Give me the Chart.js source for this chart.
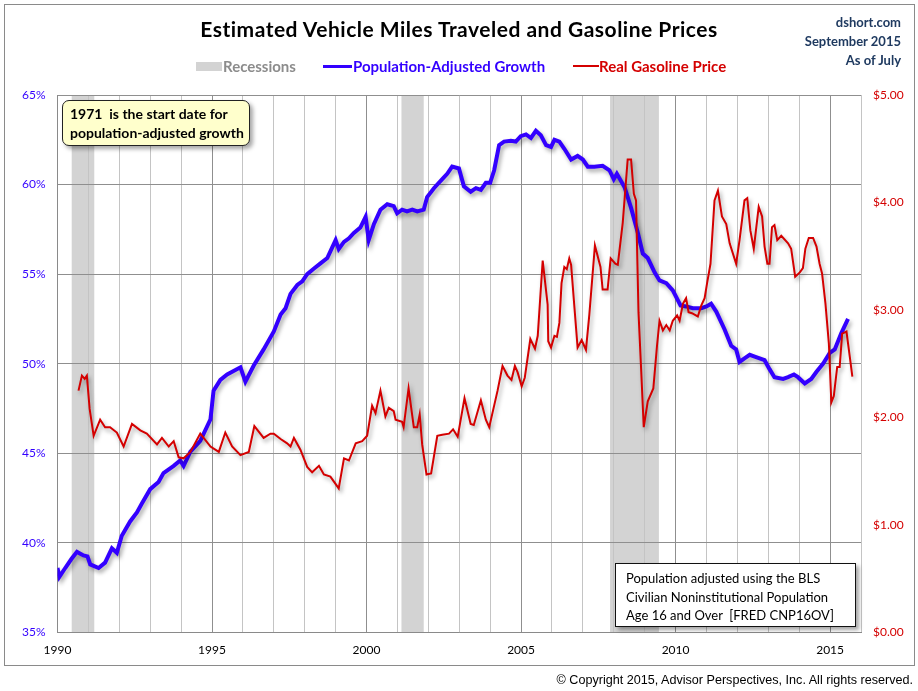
<!DOCTYPE html>
<html>
<head>
<meta charset="utf-8">
<script src="https://cdn.jsdelivr.net/npm/chart.js@4.4.1/dist/chart.umd.min.js"></script>
<style>
  body { margin: 0; background: #fff; }
  #wrap { position: relative; width: 918px; height: 691px; font-family: Lato, "Open Sans", sans-serif; }
  #frame { position: absolute; left: 4px; top: 4px; width: 909px; height: 660px; border: 1px solid #8a8a8a; }
  canvas { position: absolute; left: 0; top: 0; }
  .abs { position: absolute; white-space: nowrap; }
  #title { left: 0; width: 918px; top: 16px; text-align: center; font-weight: bold; font-size: 21px; letter-spacing: 0.5px; color: #000; }
  #source { right: 17px; top: 13px; text-align: right; font-weight: bold; font-size: 13px; line-height: 19px; color: #1f3a60; }
  .leg { top: 57px; font-weight: bold; font-size: 15px; }
  .swatch { position: absolute; }
  #note1 { left: 62px; top: 100px; background: #ffffcc; border: 1px solid #222; border-radius: 7px;
           box-shadow: 3px 3px 4px rgba(0,0,0,0.35); font-weight: bold; font-size: 14px; line-height: 19px; padding: 3px 0 0 7px; box-sizing: border-box; width: 188px; height: 46px; }
  #note2 { left: 615px; top: 563px; width: 241px; height: 64px; background: #fff; border: 1px solid #111;
           box-shadow: 3px 3px 4px rgba(0,0,0,0.35); font-size: 13px; line-height: 18.5px; padding: 5px 0 0 10px; box-sizing: border-box; }
  #copy { right: 5px; top: 673px; font-family: "Liberation Sans", Arial, sans-serif; font-size: 12.6px; color: #000; }
</style>
</head>
<body>
<div id="wrap">
  <canvas id="chart" width="918" height="691"></canvas>
  <div id="frame"></div>
  <div id="title" class="abs">Estimated Vehicle Miles Traveled and Gasoline Prices</div>
  <div id="source" class="abs">dshort.com<br>September 2015<br>As of July</div>

  <div class="swatch" style="left:196px;top:62px;width:26px;height:9px;background:#d3d3d3;"></div>
  <div class="abs leg" style="left:223px;color:#8c8c8c;">Recessions</div>
  <div class="swatch" style="left:323px;top:65px;width:29px;height:3px;background:#3300ff;"></div>
  <div class="abs leg" style="left:353px;color:#3300ff;">Population-Adjusted Growth</div>
  <div class="swatch" style="left:573px;top:65px;width:26px;height:2px;background:#d40000;"></div>
  <div class="abs leg" style="left:599px;color:#d40000;">Real Gasoline Price</div>

  <div id="note1" class="abs">1971&nbsp; is the start date for<br>population-adjusted growth</div>
  <div id="note2" class="abs">Population adjusted using the BLS<br>Civilian Noninstitutional Population<br>Age 16 and Over&nbsp; [FRED CNP16OV]</div>
  <div id="copy" class="abs">© Copyright 2015, Advisor Perspectives, Inc. All rights reserved.</div>
</div>

<script>
// recession periods (decimal years)
const recessionStarts = [1990.46, 2001.13, 2007.88];
const recessionEnds = [1991.19, 2001.85, 2009.46];

// population-adjusted vehicle miles growth since 1971 (%)
const vmtYears = [
  1990.00, 1990.06, 1990.25, 1990.45, 1990.63, 1990.84, 1990.97, 1991.06, 1991.33, 1991.54,
  1991.76, 1991.92, 1992.08, 1992.35, 1992.57, 1992.73, 1993.00, 1993.27, 1993.43, 1993.76,
  1993.97, 1994.08, 1994.30, 1994.62, 1994.95, 1995.05, 1995.27, 1995.49, 1995.92, 1996.08,
  1996.35, 1996.67, 1997.00, 1997.22, 1997.38, 1997.54, 1997.76, 1997.92, 1998.08, 1998.29,
  1998.51, 1998.73, 1998.89, 1999.00, 1999.10, 1999.27, 1999.43, 1999.59, 1999.80, 1999.97,
  2000.07, 2000.24, 2000.45, 2000.67, 2000.88, 2000.99, 2001.15, 2001.31, 2001.48, 2001.64,
  2001.85, 2001.96, 2002.18, 2002.45, 2002.61, 2002.77, 2002.99, 2003.15, 2003.37, 2003.54,
  2003.70, 2003.86, 2004.00, 2004.13, 2004.29, 2004.45, 2004.67, 2004.83, 2004.99, 2005.16,
  2005.32, 2005.48, 2005.64, 2005.81, 2005.97, 2006.08, 2006.24, 2006.40, 2006.62, 2006.83,
  2007.00, 2007.16, 2007.37, 2007.64, 2007.86, 2008.00, 2008.10, 2008.35, 2008.56, 2008.78,
  2008.94, 2009.10, 2009.32, 2009.48, 2009.70, 2009.91, 2010.16, 2010.34, 2010.56, 2010.83,
  2011.00, 2011.15, 2011.32, 2011.59, 2011.80, 2011.96, 2012.07, 2012.23, 2012.40, 2012.56,
  2012.72, 2012.88, 2013.04, 2013.20, 2013.48, 2013.64, 2013.83, 2013.96, 2014.18, 2014.39,
  2014.56, 2014.77, 2014.99, 2015.15, 2015.36, 2015.58
];
const vmtValues = [
  38.6, 38.1, 38.6, 39.1, 39.5, 39.3, 39.25, 38.8, 38.6, 38.9,
  39.7, 39.45, 40.4, 41.2, 41.7, 42.2, 43.0, 43.4, 43.9, 44.3,
  44.6, 44.3, 45.1, 45.7, 46.9, 48.5, 49.1, 49.4, 49.8, 49.0,
  49.9, 50.8, 51.8, 52.75, 53.1, 53.9, 54.4, 54.6, 55.0, 55.3,
  55.6, 55.9, 56.5, 56.9, 56.4, 56.8, 57.0, 57.3, 57.6, 58.2,
  56.9, 57.8, 58.6, 58.9, 58.8, 58.4, 58.6, 58.5, 58.6, 58.5,
  58.6, 59.3, 59.8, 60.3, 60.6, 61.0, 60.9, 59.9, 59.6, 59.8,
  59.7, 60.1, 60.1, 60.8, 62.2, 62.4, 62.45, 62.4, 62.7, 62.8,
  62.6, 63.0, 62.75, 62.2, 62.1, 62.5, 62.4, 62.0, 61.4, 61.6,
  61.4, 61.0, 61.0, 61.05, 60.8, 60.3, 60.6, 59.85, 58.7, 57.3,
  56.15, 55.9, 55.1, 54.65, 54.5, 54.1, 53.25, 53.2, 53.1, 53.1,
  53.2, 53.35, 52.9, 51.9, 51.0, 50.8, 50.1, 50.3, 50.5, 50.4,
  50.3, 50.2, 49.7, 49.25, 49.15, 49.25, 49.4, 49.25, 48.9, 49.15,
  49.55, 50.0, 50.6, 50.8, 51.7, 52.5
];

// real gasoline price (dollars)
const gasYears = [
  1990.68, 1990.79, 1990.88, 1990.95, 1991.04, 1991.17, 1991.38, 1991.54, 1991.70, 1991.92,
  1992.14, 1992.41, 1992.68, 1992.89, 1993.22, 1993.38, 1993.60, 1993.76, 1993.92, 1994.08,
  1994.30, 1994.62, 1994.95, 1995.22, 1995.43, 1995.65, 1995.92, 1996.19, 1996.37, 1996.67,
  1996.89, 1997.00, 1997.22, 1997.43, 1997.54, 1997.65, 1997.86, 1998.08, 1998.24, 1998.46,
  1998.62, 1998.83, 1999.10, 1999.27, 1999.43, 1999.65, 1999.86, 2000.02, 2000.18, 2000.29,
  2000.45, 2000.61, 2000.72, 2000.88, 2000.94, 2001.15, 2001.20, 2001.36, 2001.53, 2001.64,
  2001.72, 2001.80, 2001.94, 2002.09, 2002.29, 2002.45, 2002.67, 2002.80, 2002.95, 2003.17,
  2003.37, 2003.47, 2003.70, 2003.86, 2003.97, 2004.24, 2004.40, 2004.56, 2004.69, 2004.80,
  2004.89, 2005.02, 2005.12, 2005.30, 2005.45, 2005.54, 2005.70, 2005.86, 2005.88, 2005.97,
  2006.08, 2006.16, 2006.24, 2006.31, 2006.40, 2006.48, 2006.56, 2006.62, 2006.72, 2006.83,
  2006.96, 2007.10, 2007.21, 2007.39, 2007.57, 2007.64, 2007.80, 2007.90, 2008.05, 2008.13,
  2008.29, 2008.45, 2008.56, 2008.65, 2008.72, 2008.80, 2008.89, 2008.97, 2009.10, 2009.28,
  2009.40, 2009.48, 2009.59, 2009.70, 2009.81, 2009.91, 2010.05, 2010.13, 2010.24, 2010.34,
  2010.42, 2010.53, 2010.72, 2010.83, 2010.94, 2011.02, 2011.13, 2011.26, 2011.37, 2011.50,
  2011.64, 2011.75, 2011.96, 2012.07, 2012.23, 2012.32, 2012.42, 2012.53, 2012.69, 2012.80,
  2012.88, 2012.97, 2013.04, 2013.12, 2013.20, 2013.29, 2013.42, 2013.64, 2013.74, 2013.87,
  2014.02, 2014.12, 2014.20, 2014.31, 2014.45, 2014.56, 2014.66, 2014.74, 2014.85, 2014.96,
  2015.04, 2015.12, 2015.23, 2015.31, 2015.39, 2015.53, 2015.64, 2015.72
];
const gasPrices = [
  2.25, 2.39, 2.36, 2.39, 2.08, 1.83, 1.98, 1.91, 1.91, 1.86,
  1.73, 1.94, 1.88, 1.85, 1.75, 1.81, 1.73, 1.78, 1.63, 1.62,
  1.68, 1.85, 1.73, 1.68, 1.86, 1.73, 1.65, 1.68, 1.92, 1.81,
  1.85, 1.85, 1.80, 1.76, 1.73, 1.81, 1.70, 1.54, 1.49, 1.55,
  1.47, 1.45, 1.34, 1.62, 1.60, 1.76, 1.78, 1.83, 2.11, 2.04,
  2.25, 2.01, 2.09, 2.06, 1.98, 1.96, 1.91, 2.27, 1.91, 1.91,
  2.03, 1.75, 1.47, 1.48, 1.83, 1.84, 1.85, 1.89, 1.82, 2.18,
  1.94, 1.93, 2.16, 1.98, 1.91, 2.25, 2.48, 2.39, 2.35, 2.48,
  2.42, 2.29, 2.37, 2.73, 2.64, 2.76, 3.46, 3.05, 2.71, 2.65,
  2.76, 2.75, 2.88, 3.25, 3.40, 3.38, 3.48, 3.42, 3.05, 2.65,
  2.72, 2.63, 2.96, 3.60, 3.40, 3.19, 3.19, 3.48, 3.43, 3.42,
  3.81, 4.40, 4.40, 4.08, 4.02, 2.98, 2.42, 1.91, 2.15, 2.27,
  2.67, 2.90, 2.81, 2.86, 2.81, 2.90, 2.95, 2.90, 3.06, 3.11,
  2.98, 2.97, 2.94, 3.04, 3.11, 3.25, 3.43, 4.02, 4.11, 3.87,
  3.80, 3.62, 3.43, 3.65, 4.02, 4.04, 3.74, 3.57, 3.96, 3.87,
  3.59, 3.43, 3.43, 3.77, 3.79, 3.65, 3.69, 3.62, 3.57, 3.31,
  3.35, 3.39, 3.57, 3.67, 3.67, 3.59, 3.43, 3.34, 3.06, 2.69,
  2.14, 2.20, 2.47, 2.47, 2.78, 2.80, 2.56, 2.38
];

const FONT = "Lato, 'Open Sans', sans-serif";

// grey bands behind the grid
const recessionBands = {
  id: "recessionBands",
  beforeDraw(chart) {
    const { ctx, chartArea, scales } = chart;
    ctx.save();
    ctx.fillStyle = "#d3d3d3";
    recessionStarts.forEach((start, i) => {
      const x1 = scales.x.getPixelForValue(start);
      const x2 = scales.x.getPixelForValue(recessionEnds[i]);
      ctx.fillRect(x1, chartArea.top, x2 - x1, chartArea.bottom - chartArea.top);
    });
    ctx.restore();
  },
};

// soft drop shadow under the lines
const lineShadow = {
  id: "lineShadow",
  beforeDatasetDraw(chart) {
    const ctx = chart.ctx;
    ctx.save();
    ctx.shadowColor = "rgba(0,0,0,0.35)";
    ctx.shadowBlur = 4;
    ctx.shadowOffsetX = 2;
    ctx.shadowOffsetY = 3;
  },
  afterDatasetDraw(chart) {
    chart.ctx.restore();
  },
};

const ctx = document.getElementById("chart").getContext("2d");
new Chart(ctx, {
  type: "line",
  data: {
    datasets: [
      {
        label: "Real Gasoline Price",
        data: gasYears.map((x, i) => ({ x, y: gasPrices[i] })),
        yAxisID: "yR",
        borderColor: "#d40000",
        borderWidth: 2,
        pointRadius: 0,
        tension: 0,
        order: 1,
      },
      {
        label: "Population-Adjusted Growth",
        data: vmtYears.map((x, i) => ({ x, y: vmtValues[i] })),
        yAxisID: "yL",
        borderColor: "#3300ff",
        borderWidth: 4,
        pointRadius: 0,
        tension: 0,
        order: 2,
      },
    ],
  },
  options: {
    responsive: false,
    animation: false,
    devicePixelRatio: 1,
    layout: { padding: { top: 95, left: 0, right: 0, bottom: 0 } },
    plugins: {
      legend: { display: false },
      title: { display: false },
      tooltip: { enabled: false },
    },
    scales: {
      x: {
        type: "linear",
        min: 1990,
        max: 2016,
        afterFit: (s) => { s.height = 58.5; },
        ticks: {
          stepSize: 1,
          autoSkip: false,
          maxRotation: 0,
          padding: 10,
          color: "#000",
          font: { family: FONT, size: 12 },
          callback: (v) => (v % 5 === 0 ? String(v) : ""),
        },
        grid: {
          drawTicks: false,
          color: (c) => (c.tick && c.tick.value % 5 === 0 ? "#8f8f8f" : "#c4c4c4"),
        },
        border: { color: "#8a8a8a" },
      },
      yL: {
        position: "left",
        min: 35,
        max: 65,
        afterFit: (s) => { s.width = 57.5; },
        ticks: {
          stepSize: 5,
          padding: 12,
          color: "#3300ff",
          font: { family: FONT, size: 12 },
          callback: (v) => v + "%",
        },
        grid: { drawTicks: false, color: "#8f8f8f" },
        border: { color: "#8a8a8a" },
      },
      yR: {
        position: "right",
        min: 0,
        max: 5,
        afterFit: (s) => { s.width = 57; },
        ticks: {
          stepSize: 1,
          padding: 12,
          color: "#d40000",
          font: { family: FONT, size: 12 },
          callback: (v) => "$" + v.toFixed(2),
        },
        grid: { drawOnChartArea: false, drawTicks: false },
        border: { display: false },
      },
    },
  },
  plugins: [recessionBands, lineShadow],
});
</script>
</body>
</html>
